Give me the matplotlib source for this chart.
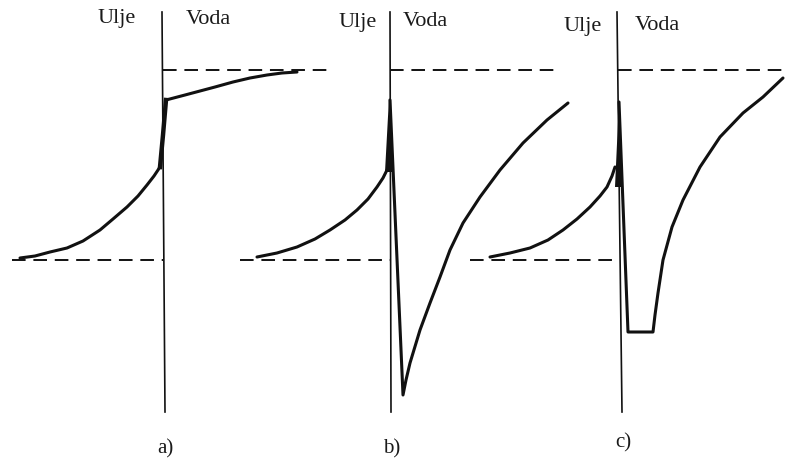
import matplotlib
matplotlib.use('Agg')
import matplotlib.pyplot as plt

# Everything in pixel units (x right, y down)

# a) oil side curve, steep jump at the interface, water side curve
a_oil_x = [20, 35, 50, 67, 83, 100, 113, 127, 138, 147, 154, 160]
a_oil_y = [258, 256, 252, 248, 241, 230, 219, 207, 196, 185, 176, 167]
a_jump_x = [160, 163, 166]
a_jump_y = [167, 135, 100]
a_water_x = [166, 185, 200, 215, 233, 250, 267, 282, 297]
a_water_y = [100, 95, 91, 87, 82, 78, 75, 73, 72]

# b) oil side, spike, deep dip and recovery
b_oil_x = [257, 277, 297, 315, 330, 345, 357, 368, 377, 383, 387]
b_oil_y = [257, 253, 247, 239, 230, 220, 210, 199, 187, 178, 170]
b_spike_x = [385, 389, 393]
b_spike_y = [172, 98, 172]
b_water_x = [390, 403, 406, 410, 420, 430, 440, 450, 463, 480, 500, 523, 547, 568]
b_water_y = [100, 395, 380, 363, 330, 303, 277, 250, 223, 197, 170, 143, 120, 103]

# c) oil side, spike, flat bottom and recovery
c_oil_x = [490, 510, 530, 548, 563, 577, 590, 600, 607, 612, 615]
c_oil_y = [257, 253, 248, 240, 230, 219, 207, 196, 187, 176, 167]
c_spike_x = [615, 619, 622]
c_spike_y = [187, 100, 187]
c_water_x = [619, 628, 653, 655, 658, 663, 672, 683, 700, 720, 743, 763, 783]
c_water_y = [102, 332, 332, 315, 293, 260, 227, 200, 167, 137, 113, 97, 78]

# interface lines (top, bottom) and dashed reference levels
interface_x = [(162, 165), (390, 391), (617, 622)]
interface_y = (12, 412)
upper_level_y = 70
lower_level_y = 260
upper_spans = [(163, 328), (390, 555), (618, 785)]
lower_spans = [(12, 163), (240, 390), (470, 618)]

label_oil = 'Ulje'
label_water = 'Voda'
oil_pos = [(117, 19), (358, 22), (583, 26)]
water_pos = [(208, 19), (425, 22), (657, 26)]
panel_labels = ['a)', 'b)', 'c)']
panel_pos = [(165, 449), (392, 449), (623, 443)]

fig = plt.figure(figsize=(7.94, 4.63), dpi=100)
ax = fig.add_axes([0, 0, 1, 1])
ax.set_xlim(0, 794)
ax.set_ylim(463, 0)
ax.axis('off')

ink = '#111111'
dash = dict(color=ink, lw=1.4, dashes=(7, 4))

for (x0, x1) in interface_x:
    ax.plot([x0, x1], interface_y, color=ink, lw=1.2)
for (x0, x1) in upper_spans:
    ax.plot([x0, x1], [upper_level_y, upper_level_y], **dash)
for (x0, x1) in lower_spans:
    ax.plot([x0, x1], [lower_level_y, lower_level_y], **dash)

curve = dict(color=ink, lw=2.2, solid_capstyle='round', solid_joinstyle='round')
ax.plot(a_oil_x, a_oil_y, **curve)
ax.plot(a_jump_x, a_jump_y, color=ink, lw=3.2)
ax.plot(a_water_x, a_water_y, **curve)

ax.plot(b_oil_x, b_oil_y, **curve)
ax.fill(b_spike_x, b_spike_y, color=ink, lw=0)
ax.plot(b_water_x, b_water_y, **curve)

ax.plot(c_oil_x, c_oil_y, **curve)
ax.fill(c_spike_x, c_spike_y, color=ink, lw=0)
ax.plot(c_water_x, c_water_y, **curve)

font = dict(family='Liberation Serif', color='#1a1a1a')
for (x, y) in oil_pos:
    ax.text(x, y, label_oil, fontsize=16, ha='center', va='center', **font)
for (x, y) in water_pos:
    ax.text(x, y, label_water, fontsize=16, ha='center', va='center', **font)
for lab, (x, y) in zip(panel_labels, panel_pos):
    ax.text(x, y, lab, fontsize=15, ha='center', va='center', **font)

fig.savefig('out.png', dpi=100)
